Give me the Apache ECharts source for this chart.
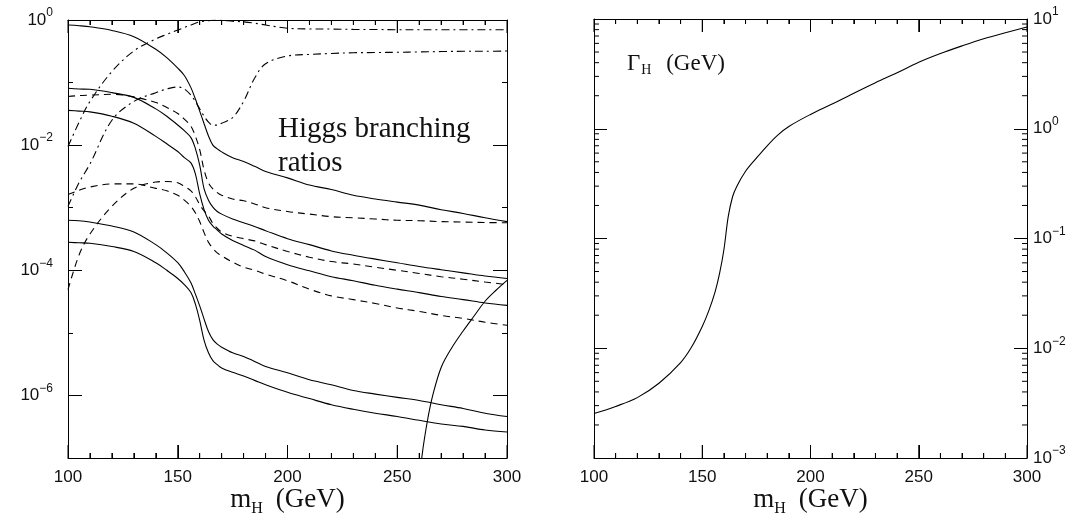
<!DOCTYPE html>
<html><head><meta charset="utf-8">
<script src="https://cdn.jsdelivr.net/npm/echarts@6/dist/echarts.min.js"></script>
<style>html,body{margin:0;padding:0;background:#fff}#c{width:1090px;height:519px}</style>
</head><body><div id="c"></div>
<script>
// Higgs mass grid (GeV) shared by the branching-ratio curves
const mH = [100,105,110,120,130,140,145,150,153,156,158,160,162,164,166,168,170,175,180,185,190,200,210,220,230,240,250,260,270,280,290,300];
// Branching ratios
const brBB   = [0.83,0.81,0.78,0.68,0.54,0.34,0.25,0.17,0.13,0.083,0.055,0.035,0.022,0.014,0.010,8.7e-3,7.8e-3,6.3e-3,5.5e-3,4.6e-3,3.8e-3,3.0e-3,2.3e-3,1.95e-3,1.58e-3,1.38e-3,1.23e-3,1.10e-3,9.3e-4,8.1e-4,6.9e-4,6.0e-4];
const brTauTau = [0.081,0.079,0.078,0.069,0.058,0.038,0.029,0.021,0.017,0.0132,8.9e-3,4.8e-3,2.0e-3,1.32e-3,1.02e-3,8.7e-4,7.9e-4,6.6e-4,5.75e-4,5.0e-4,4.3e-4,3.2e-4,2.57e-4,2.04e-4,1.74e-4,1.51e-4,1.32e-4,1.15e-4,1.02e-4,9.1e-5,8.1e-5,7.4e-5];
const brCC   = [0.036,0.035,0.034,0.029,0.0224,0.0138,0.0105,7.9e-3,6.3e-3,5.2e-3,3.5e-3,1.66e-3,9.3e-4,6.3e-4,5.1e-4,4.4e-4,3.8e-4,3.0e-4,2.5e-4,2.1e-4,1.66e-4,1.23e-4,9.8e-5,7.9e-5,6.8e-5,5.75e-5,5.0e-5,4.4e-5,3.8e-5,3.4e-5,3.0e-5,2.75e-5];
const brSS   = [6.3e-4,6.2e-4,5.9e-4,5.1e-4,4.1e-4,2.57e-4,1.9e-4,1.32e-4,9.5e-5,6.3e-5,4.2e-5,2.7e-5,1.66e-5,1.05e-5,7.8e-6,6.6e-6,5.9e-6,4.8e-6,4.2e-6,3.5e-6,2.9e-6,2.3e-6,1.78e-6,1.48e-6,1.2e-6,1.05e-6,9.3e-7,8.3e-7,7.1e-7,6.2e-7,5.2e-7,4.6e-7];
const brMuMu = [2.8e-4,2.75e-4,2.7e-4,2.4e-4,2.0e-4,1.32e-4,1.0e-4,7.4e-5,5.9e-5,4.4e-5,2.9e-5,1.58e-5,7.6e-6,4.8e-6,3.6e-6,3.1e-6,2.75e-6,2.34e-6,2.04e-6,1.74e-6,1.48e-6,1.12e-6,8.9e-7,7.1e-7,6.0e-7,5.2e-7,4.6e-7,4.0e-7,3.5e-7,3.2e-7,2.8e-7,2.6e-7];
const brGG   = [0.060,0.062,0.063,0.065,0.059,0.048,0.040,0.032,0.026,0.020,0.014,8.5e-3,4.0e-3,2.5e-3,2.0e-3,1.74e-3,1.58e-3,1.38e-3,1.29e-3,1.15e-3,1.0e-3,8.7e-4,7.9e-4,7.2e-4,6.9e-4,6.6e-4,6.3e-4,6.2e-4,6.0e-4,5.9e-4,5.8e-4,5.75e-4];
const brGamGam = [1.62e-3,1.9e-3,2.14e-3,2.4e-3,2.4e-3,2.04e-3,1.86e-3,1.58e-3,1.32e-3,1.05e-3,8.3e-4,6.0e-4,4.0e-4,2.8e-4,2.24e-4,1.9e-4,1.7e-4,1.35e-4,1.12e-4,1.0e-4,8.7e-5,6.8e-5,5.0e-5,3.9e-5,3.4e-5,2.95e-5,2.5e-5,2.2e-5,1.9e-5,1.7e-5,1.48e-5,1.32e-5];
const brZGam = [4.9e-5,1.74e-4,3.8e-4,1.05e-3,2.04e-3,2.57e-3,2.63e-3,2.5e-3,2.2e-3,1.86e-3,1.51e-3,1.12e-3,8.9e-4,7.4e-4,5.6e-4,4.7e-4,4.1e-4,3.5e-4,3.2e-4,2.95e-4,2.57e-4,2.0e-4,1.62e-4,1.38e-4,1.26e-4,1.12e-4,1.0e-4,8.9e-5,7.9e-5,7.2e-5,6.5e-5,5.9e-5];
const brWW   = [9.5e-3,0.023,0.050,0.15,0.32,0.50,0.59,0.69,0.76,0.83,0.89,0.93,0.955,0.977,0.99,0.993,0.99,0.955,0.933,0.89,0.83,0.74,0.72,0.716,0.708,0.705,0.70,0.70,0.70,0.70,0.70,0.70];
const brZZ   = [1.05e-3,2.5e-3,5.0e-3,0.025,0.050,0.069,0.079,0.085,0.079,0.063,0.050,0.038,0.029,0.0234,0.0209,0.0209,0.0224,0.0275,0.050,0.117,0.20,0.266,0.282,0.292,0.30,0.302,0.305,0.309,0.313,0.316,0.316,0.32];
// top-quark channel opens near 2 m_t
const mHtt = [261,262,264,266,270,275,280,285,290,295,300];
const brTT = [8.9e-8,1.66e-7,4.4e-7,9.5e-7,2.8e-6,5.9e-6,1.07e-5,1.86e-5,3.2e-5,4.8e-5,6.9e-5];
// Total width Gamma_H (GeV)
const mHwidth = [100,110,120,130,140,145,150,153,156,158,160,162,164,166,170,175,180,185,190,200,210,220,230,240,250,260,270,280,290,300];
const gammaH  = [2.54e-3,2.95e-3,3.55e-3,4.8e-3,7.4e-3,0.0102,0.0158,0.0219,0.033,0.048,0.079,0.158,0.24,0.30,0.41,0.54,0.70,0.88,1.05,1.35,1.68,2.11,2.63,3.24,4.03,4.84,5.69,6.61,7.5,8.45];
// Tick values
const xMajorTicks = [100,150,200,250,300];
const xMinorTicks = [110,120,130,140,160,170,180,190,210,220,230,240,260,270,280,290];
const brLabelTicks = [1e-6,1e-4,1e-2,1];
const brOddTicks = [1e-5,1e-3,1e-1];
const gamDecades = [1e-3,1e-2,1e-1,1,10];
const minorMultipliers = [2,3,4,5,6,7,8,9];
// Texts
const xTitle = '{m|m}{h|H}{m| (GeV)}';
const brTitle = 'Higgs branching\nratios';
const widthTitle = '{g|\u0393}{h|H}{g| (GeV)}';

const gamMinorTicks = [];
gamDecades.slice(0,4).forEach(d => minorMultipliers.forEach(k => gamMinorTicks.push(k*d)));

const pairs = (xs, ys) => xs.map((x,i) => [x, ys[i]]);
const INK = '#111';
const SANS = '"Liberation Sans", Arial, sans-serif';
const SERIF = '"Liberation Serif", "Times New Roman", serif';
const ls = () => ({color: '#000', width: 1});

function powLabel(v){
  const e = Math.round(Math.log10(v));
  return '{b|10}{s|' + (e < 0 ? '\u2212' + (-e) : e) + '}';
}
const powRich = () => ({
  b: {fontFamily: SANS, fontSize: 17, lineHeight: 26, color: INK},
  s: {fontFamily: SANS, fontSize: 12, lineHeight: 12, verticalAlign: 'top', color: INK}
});
const axisNameRich = () => ({
  m: {fontFamily: SERIF, fontSize: 27, lineHeight: 34, fill: INK},
  h: {fontFamily: SERIF, fontSize: 16, lineHeight: 10, verticalAlign: 'bottom', padding: [0, 6, 0, 0], fill: INK}
});

function xAx(grid, pos, withLabels){
  return {
    type: 'value', gridIndex: grid, position: pos, min: 100, max: 300, interval: 50,
    axisLine: {show: true, onZero: false, lineStyle: ls()},
    axisTick: {show: true, inside: true, length: 13, lineStyle: ls()},
    minorTick: {show: true, splitNumber: 5, length: 5, lineStyle: ls()},
    splitLine: {show: false},
    axisLabel: {show: withLabels, fontFamily: SANS, fontSize: 17, color: INK, margin: 11}
  };
}
function yAx(grid, pos, min, max, ticks, len, showLine, labels, margin){
  return {
    type: 'log', logBase: 10, gridIndex: grid, position: pos, min: min, max: max,
    axisLine: {show: showLine, onZero: false, lineStyle: ls()},
    axisTick: {show: true, inside: true, length: len, customValues: ticks, lineStyle: ls()},
    splitLine: {show: false},
    axisLabel: labels ? {show: true, customValues: ticks, formatter: powLabel, rich: powRich(), margin: margin}
                      : {show: false, customValues: ticks}
  };
}

// tick marks placed through the axes' own scales (api.coord), mirrored on both sides of the frame
function xTickSeries(xi, yi, ticks, yLo, yHi, len){
  return {
    type: 'custom', xAxisIndex: xi, yAxisIndex: yi, silent: true, clip: false, z: 5,
    data: ticks.map(v => [v, yLo]),
    renderItem: function(params, api){
      const b = api.coord([api.value(0), yLo]);
      const t = api.coord([api.value(0), yHi]);
      const st = {stroke: '#000', lineWidth: 1};
      return {type: 'group', children: [
        {type: 'line', shape: {x1: b[0], y1: b[1], x2: b[0], y2: b[1] - len}, style: st},
        {type: 'line', shape: {x1: t[0], y1: t[1], x2: t[0], y2: t[1] + len}, style: st}
      ]};
    }
  };
}
function yTickSeries(xi, yi, ticks, xLo, xHi, len){
  return {
    type: 'custom', xAxisIndex: xi, yAxisIndex: yi, silent: true, clip: false, z: 5,
    data: ticks.map(v => [xLo, v]),
    renderItem: function(params, api){
      const l = api.coord([xLo, api.value(1)]);
      const r = api.coord([xHi, api.value(1)]);
      const st = {stroke: '#000', lineWidth: 1};
      return {type: 'group', children: [
        {type: 'line', shape: {x1: l[0], y1: l[1], x2: l[0] + len, y2: l[1]}, style: st},
        {type: 'line', shape: {x1: r[0], y1: r[1], x2: r[0] - len, y2: r[1]}, style: st}
      ]};
    }
  };
}

const chart = echarts.init(document.getElementById('c'));
function ser(name, xs, ys, dash, xi, yi){
  return {
    name: name, type: 'line', xAxisIndex: xi, yAxisIndex: yi,
    data: pairs(xs, ys), symbol: 'none', smooth: 0.35, clip: true,
    lineStyle: {color: '#000', width: 1.1, type: dash}, silent: true
  };
}
const DASH = [7,5];
const DASHDOT = [8,4,2,4];

chart.setOption({
  animation: false,
  backgroundColor: '#fff',
  grid: [
    {left: 68, top: 20, width: 439, height: 438, containLabel: false, outerBoundsMode: 'none'},
    {left: 594, top: 19, width: 433, height: 439, containLabel: false, outerBoundsMode: 'none'}
  ],
  xAxis: [xAx(0,'bottom',true), xAx(0,'top',false), xAx(1,'bottom',true), xAx(1,'top',false)],
  yAxis: [
    yAx(0,'left',1e-7,1,brLabelTicks,14,true,true,15),
    yAx(0,'left',1e-7,1,brOddTicks,5,false,false),
    yAx(0,'right',1e-7,1,brLabelTicks,14,true,false),
    yAx(0,'right',1e-7,1,brOddTicks,5,false,false),
    yAx(1,'left',1e-3,10,gamDecades,13,true,false),
    yAx(1,'right',1e-3,10,gamDecades,13,true,true,6)
  ],
  series: [
    ser('b b', mH, brBB, 'solid', 0, 0),
    ser('tau tau', mH, brTauTau, 'solid', 0, 0),
    ser('c c', mH, brCC, 'solid', 0, 0),
    ser('s s', mH, brSS, 'solid', 0, 0),
    ser('mu mu', mH, brMuMu, 'solid', 0, 0),
    ser('g g', mH, brGG, DASH, 0, 0),
    ser('gamma gamma', mH, brGamGam, DASH, 0, 0),
    ser('Z gamma', mH, brZGam, DASH, 0, 0),
    ser('W W', mH, brWW, DASHDOT, 0, 0),
    ser('Z Z', mH, brZZ, DASHDOT, 0, 0),
    ser('t t', mHtt, brTT, 'solid', 0, 0),
    ser('Gamma_H', mHwidth, gammaH, 'solid', 2, 4),
    xTickSeries(0, 0, xMajorTicks, 1e-7, 1, 13),
    xTickSeries(0, 0, xMinorTicks, 1e-7, 1, 5),
    xTickSeries(2, 4, xMajorTicks, 1e-3, 10, 13),
    xTickSeries(2, 4, xMinorTicks, 1e-3, 10, 5),
    yTickSeries(2, 4, gamMinorTicks, 100, 300, 5)
  ],
  graphic: [
    {type: 'text', x: 287.5, y: 483, silent: true,
     style: {text: xTitle, align: 'center', verticalAlign: 'top', fill: INK, rich: axisNameRich()}},
    {type: 'text', x: 810.5, y: 483, silent: true,
     style: {text: xTitle, align: 'center', verticalAlign: 'top', fill: INK, rich: axisNameRich()}},
    {type: 'text', left: 278, top: 112, silent: true,
     style: {text: brTitle, font: '29px ' + SERIF, lineHeight: 34, fill: INK}},
    {type: 'text', left: 627, top: 52, silent: true,
     style: {text: widthTitle, fill: INK,
       rich: {g: {fontFamily: SERIF, fontSize: 23, lineHeight: 28, fill: INK},
              h: {fontFamily: SERIF, fontSize: 14, lineHeight: 7, verticalAlign: 'bottom', padding: [0, 9, 0, 1], fill: INK}}}}
  ]
});
</script></body></html>
